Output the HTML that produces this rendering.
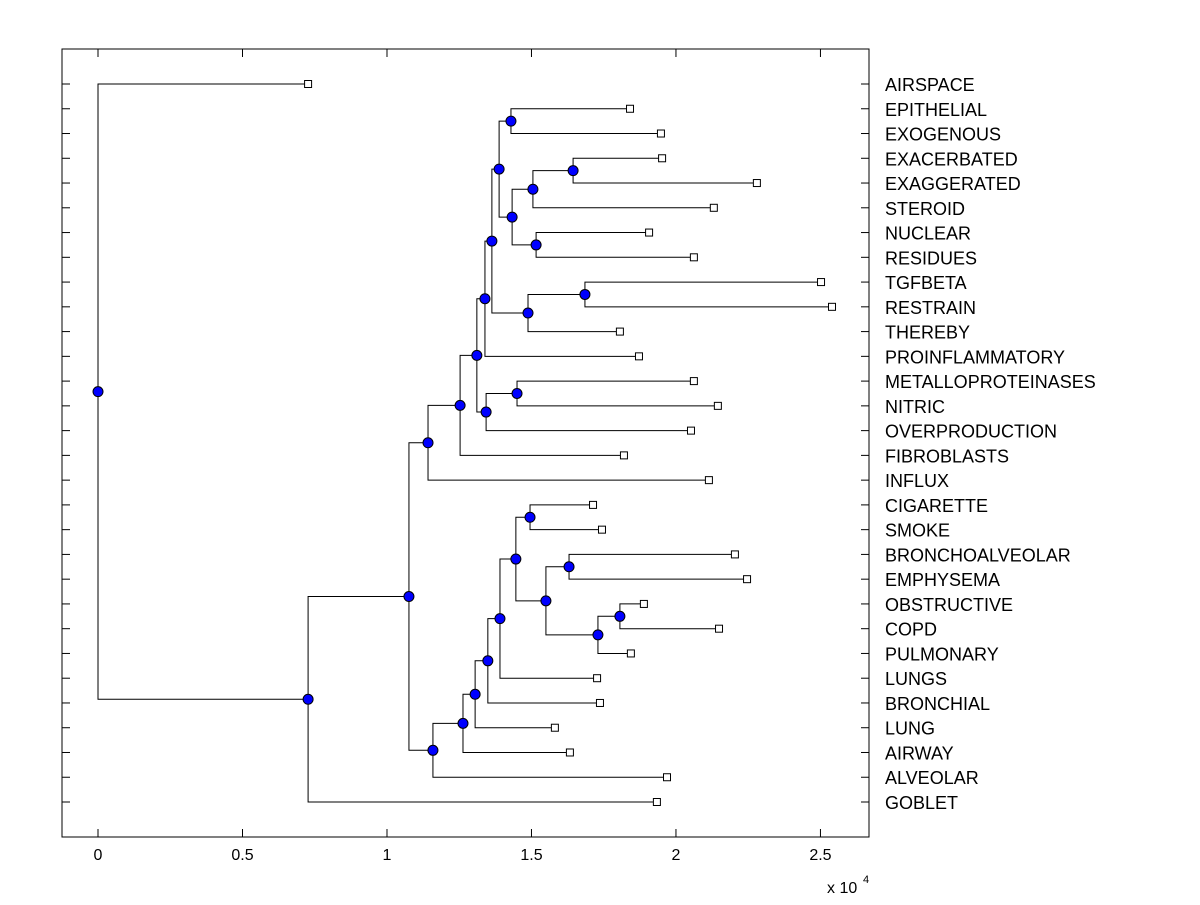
<!DOCTYPE html>
<html><head><meta charset="utf-8"><style>
body{margin:0;background:#fff}
text{font-family:"Liberation Sans",Arial,sans-serif;font-size:16px;fill:#000}
text.lbl{font-size:18px}
</style></head><body>
<svg id="chart" width="1200" height="900" xmlns="http://www.w3.org/2000/svg">
<rect x="0" y="0" width="1200" height="900" fill="#fff"/>
<g id="frame"></g>
<g id="links"></g>
<g id="marks"></g>
<g id="labels"></g>
</svg>
<script>
const leafNames=["AIRSPACE","EPITHELIAL","EXOGENOUS","EXACERBATED","EXAGGERATED","STEROID","NUCLEAR","RESIDUES","TGFBETA","RESTRAIN","THEREBY","PROINFLAMMATORY","METALLOPROTEINASES","NITRIC","OVERPRODUCTION","FIBROBLASTS","INFLUX","CIGARETTE","SMOKE","BRONCHOALVEOLAR","EMPHYSEMA","OBSTRUCTIVE","COPD","PULMONARY","LUNGS","BRONCHIAL","LUNG","AIRWAY","ALVEOLAR","GOBLET"];
const leafValues=[0.727,1.841,1.948,1.952,2.280,2.131,1.907,2.062,2.502,2.540,1.806,1.872,2.062,2.145,2.052,1.820,2.114,1.713,1.744,2.204,2.246,1.889,2.149,1.844,1.727,1.737,1.581,1.633,1.969,1.934];
// internal nodes: [id, value, childA, childB]; children are leaf names or node ids
const nodeIds=["root","n1","n2","n3","n4","n5","n6","n7","n8","n9","n10","n11","n12","n13","n14","n15","n16","n17","n18","n19","n20","n21","n22","n23","n24","n25","n26","n27","n28"];
const nodeValues=[0,0.727,1.076,1.142,1.253,1.311,1.339,1.363,1.388,1.429,1.433,1.505,1.644,1.516,1.488,1.685,1.343,1.450,1.159,1.263,1.305,1.349,1.391,1.446,1.495,1.550,1.630,1.730,1.806];
const nodeChildren=[["AIRSPACE","n1"],["n2","GOBLET"],["n3","n18"],["n4","INFLUX"],["n5","FIBROBLASTS"],["n6","n16"],["n7","PROINFLAMMATORY"],["n8","n14"],["n9","n10"],["EPITHELIAL","EXOGENOUS"],["n11","n13"],["n12","STEROID"],["EXACERBATED","EXAGGERATED"],["NUCLEAR","RESIDUES"],["n15","THEREBY"],["TGFBETA","RESTRAIN"],["n17","OVERPRODUCTION"],["METALLOPROTEINASES","NITRIC"],["n19","ALVEOLAR"],["n20","AIRWAY"],["n21","LUNG"],["n22","BRONCHIAL"],["n23","LUNGS"],["n24","n25"],["CIGARETTE","SMOKE"],["n26","n27"],["BRONCHOALVEOLAR","EMPHYSEMA"],["n28","PULMONARY"],["OBSTRUCTIVE","COPD"]];
const xTicks=[0,0.5,1,1.5,2,2.5];
const xTickLabels=["0","0.5","1","1.5","2","2.5"];

const NS="http://www.w3.org/2000/svg";
const L=62,R=869,T=49,B=837,xmin=-0.1246,xmax=2.668;
const xs=v=>L+(v-xmin)/(xmax-xmin)*(R-L);
const y0=84,dy=(802-84)/29;
const ys=i=>y0+i*dy;
function mk(tag,attrs,parent){const e=document.createElementNS(NS,tag);for(const k in attrs)e.setAttribute(k,attrs[k]);document.getElementById(parent).appendChild(e);return e;}
let e=mk('rect',{x:L,y:T,width:R-L,height:B-T,fill:'none',stroke:'#000','stroke-width':1},'frame');


xTicks.forEach((t,i)=>{const x=xs(t);
 let a=mk('line',{x1:x,x2:x,y1:B,y2:B-8,stroke:'#000'},'frame');
 
 
 let b=mk('line',{x1:x,x2:x,y1:T,y2:T+8,stroke:'#000'},'frame');
 
 
 let tx=mk('text',{x:x,y:B+23,'text-anchor':'middle'},'frame');tx.textContent=xTickLabels[i];
 
 
});
let ex=mk('text',{x:827,y:893},'frame');ex.textContent='x 10';


let ex2=mk('text',{x:863,y:883,style:'font-size:11px'},'frame');ex2.textContent='4';


leafNames.forEach((n,i)=>{const y=ys(i);
 let a=mk('line',{x1:L,x2:L+8,y1:y,y2:y,stroke:'#000'},'frame');
 
 
 let b=mk('line',{x1:R,x2:R-8,y1:y,y2:y,stroke:'#000'},'frame');
 
 
 let t=mk('text',{x:885,y:y+7,class:'lbl'},'labels');t.textContent=n;
 
 
});
const pos={};
leafNames.forEach((n,i)=>pos[n]={x:xs(leafValues[i]),y:ys(i),leaf:true});
function resolve(id){if(pos[id])return pos[id];const k=nodeIds.indexOf(id);
 const [a,b]=nodeChildren[k];const pa=resolve(a),pb=resolve(b);
 pos[id]={x:xs(nodeValues[k]),y:(pa.y+pb.y)/2,leaf:false,ch:[pa,pb]};return pos[id];}
nodeIds.forEach(resolve);
nodeIds.forEach(id=>{const p=pos[id];const[a,b]=p.ch;
 let v=mk('polyline',{points:`${a.x},${a.y} ${p.x},${a.y} ${p.x},${b.y} ${b.x},${b.y}`,fill:'none',stroke:'#000','stroke-width':1},'links');
 
 
});
leafNames.forEach(n=>{const p=pos[n];
 let s=mk('rect',{x:p.x-3.5,y:p.y-3.5,width:7,height:7,fill:'#fff',stroke:'#000'},'marks');
 
 
});
nodeIds.forEach(id=>{const p=pos[id];
 let c=mk('circle',{cx:p.x,cy:p.y,r:5,fill:'#0000ff',stroke:'#000','stroke-width':1},'marks');
 
 
});
</script>
</body></html>
